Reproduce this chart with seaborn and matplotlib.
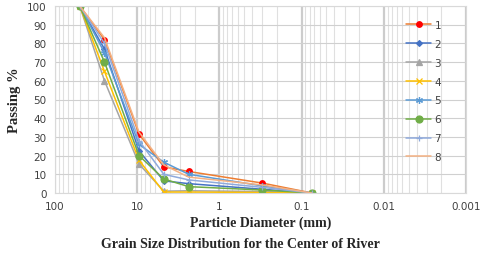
import numpy as np
import pandas as pd
import seaborn as sns
import matplotlib
matplotlib.use("Agg")
import matplotlib.pyplot as plt
from matplotlib.ticker import FixedLocator, NullFormatter

# sieve sizes (mm) and percent passing for each sample
sizes = [50, 25, 9.5, 4.75, 2.36, 0.3, 0.075]
s1 = [100, 82, 31.5, 14, 11.5, 5.3, 0]
s2 = [100, 77, 22.5, 6.5, 5.0, 2.0, 0]
s3 = [100, 60, 15.5, 1.0, 1.2, 0.8, 0]
s4 = [100, 65, 17.5, 0.5, 0.5, 0.3, 0]
s5 = [100, 75, 26, 16.5, 10, 3.8, 0]
s6 = [100, 70, 20, 7.5, 3.4, 1.6, 0]
s7 = [100, 80, 28, 10, 7, 3.0, 0]
s8 = [100, 83, 32.5, 15, 8.5, 4.3, 0]
labels = ["1", "2", "3", "4", "5", "6", "7", "8"]
series = [s1, s2, s3, s4, s5, s6, s7, s8]
x_ticks = [100, 10, 1, 0.1, 0.01, 0.001]
x_tick_labels = ["100", "10", "1", "0.1", "0.01", "0.001"]

# line colour, marker colour, marker, marker size
STYLE = {
    "1": ("#ED7D31", "#FF0000", "o", 4),
    "2": ("#4472C4", "#4472C4", "D", 3),
    "3": ("#A5A5A5", "#A5A5A5", "^", 4),
    "4": ("#FFC000", "#FFC000", "x", 4),
    "5": ("#5B9BD5", "#5B9BD5", (6, 2, 0), 5),
    "6": ("#70AD47", "#70AD47", "o", 5),
    "7": ("#8FAADC", "#8FAADC", "+", 5),
    "8": ("#F4B183", "#F4B183", None, 0),
}

df = pd.concat([pd.DataFrame({"size": sizes, "passing": v, "sample": lab})
                for lab, v in zip(labels, series)], ignore_index=True)

sns.set_style("white")
fig = plt.figure(figsize=(4.8, 2.55), dpi=100)
ax = fig.add_axes([55 / 480, 1 - 194 / 255, 411 / 480, 187 / 255])
ax.set_xscale("log")

for lab in labels:
    lc, mc, mk, ms = STYLE[lab]
    sub = df[df["sample"] == lab]
    sns.lineplot(data=sub, x="size", y="passing", ax=ax, color=lc, lw=1.1,
                 marker=mk, markersize=ms, markerfacecolor=mc, markeredgecolor=mc,
                 markeredgewidth=0.9, label=lab, sort=False, estimator=None)

ax.set_xlim(100, 0.001)
ax.set_ylim(0, 100)
ax.set_yticks(range(0, 101, 10))
ax.xaxis.set_major_locator(FixedLocator(x_ticks))
ax.set_xticklabels(x_tick_labels)
minor = [m * 10.0 ** e for e in range(-3, 2) for m in range(2, 10)]
ax.xaxis.set_minor_locator(FixedLocator(minor))
ax.xaxis.set_minor_formatter(NullFormatter())
ax.grid(which="major", axis="x", color="#cccccc", lw=1.6)
ax.grid(which="minor", axis="x", color="#e0e0e0", lw=0.8)
ax.grid(which="major", axis="y", color="#d0d0d0", lw=0.8)
ax.set_axisbelow(True)
ax.tick_params(which="both", length=0, labelsize=7.5, colors="#404040", pad=6)
for sp in ax.spines.values():
    sp.set_color("#d9d9d9")
    sp.set_linewidth(0.8)

serif = {"family": "Liberation Serif", "weight": "bold"}
ax.set_xlabel("Particle Diameter (mm)", fontdict=serif, fontsize=10, labelpad=3)
ax.set_ylabel("Passing %", fontdict=serif, fontsize=10.5, labelpad=4)
fig.text(0.5, 1 - 245 / 255, "Grain Size Distribution for the Center of River",
         ha="center", va="center", fontdict=serif, fontsize=10)

leg = ax.legend(loc="upper left", bbox_to_anchor=(0.855, 0.925), frameon=False,
                borderaxespad=0, borderpad=0, handlelength=2.4, handletextpad=0.3,
                labelspacing=0.85, fontsize=7.5)
for t in leg.get_texts():
    t.set_color("#404040")

fig.savefig("out.png", dpi=100)
